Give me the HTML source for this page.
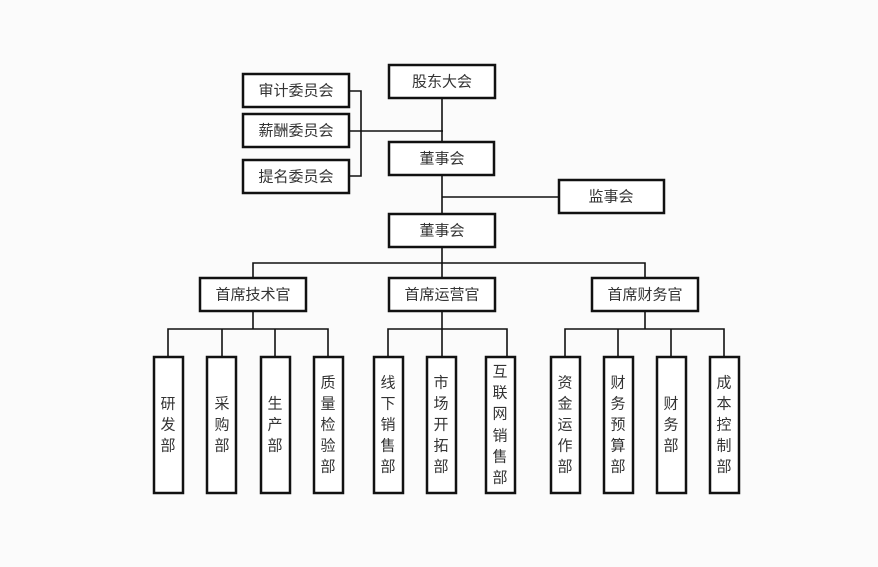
<!DOCTYPE html>
<html><head><meta charset="utf-8"><style>
html,body{margin:0;padding:0;background:#fbfbfb;}
svg{display:block;}
text{font-family:"Liberation Sans","Noto Sans CJK SC",sans-serif;font-size:15px;fill:#333;text-anchor:middle;dominant-baseline:central;}
rect{fill:#fff;stroke:#111;stroke-width:2.5;}
line,polyline{stroke:#111;stroke-width:1.6;fill:none;}
</style></head><body>
<svg width="878" height="567" viewBox="0 0 878 567">
<!-- connectors -->
<line x1="442" y1="98" x2="442" y2="142"/>
<polyline points="349,91 361,91 361,176 349,176"/>
<line x1="349" y1="131" x2="443" y2="131"/>
<line x1="442" y1="175" x2="442" y2="214"/>
<line x1="442" y1="197" x2="559" y2="197"/>
<line x1="442" y1="247" x2="442" y2="278"/>
<polyline points="253,278 253,263 645,263 645,278"/>
<line x1="253" y1="311" x2="253" y2="329"/>
<line x1="442" y1="311" x2="442" y2="357"/>
<line x1="645" y1="311" x2="645" y2="329"/>
<polyline points="168,357 168,329 328,329 328,357"/>
<line x1="222" y1="329" x2="222" y2="357"/>
<line x1="275" y1="329" x2="275" y2="357"/>
<polyline points="388,357 388,329 507,329 507,357"/>
<polyline points="565,357 565,329 724,329 724,357"/>
<line x1="618" y1="329" x2="618" y2="357"/>
<line x1="671" y1="329" x2="671" y2="357"/>
<!-- top boxes -->
<rect x="389" y="65" width="106" height="33"/><text x="442" y="82">股东大会</text>
<rect x="243" y="74" width="106" height="33"/><text x="296" y="91">审计委员会</text>
<rect x="243" y="114" width="106" height="33"/><text x="296" y="131">薪酬委员会</text>
<rect x="243" y="160" width="106" height="33"/><text x="296" y="177">提名委员会</text>
<rect x="389" y="142" width="105" height="33"/><text x="442" y="159">董事会</text>
<rect x="559" y="180" width="105" height="33"/><text x="611" y="197">监事会</text>
<rect x="389" y="214" width="106" height="33"/><text x="442" y="231">董事会</text>
<rect x="200" y="278" width="106" height="33"/><text x="253" y="295">首席技术官</text>
<rect x="389" y="278" width="106" height="33"/><text x="442" y="295">首席运营官</text>
<rect x="592" y="278" width="106" height="33"/><text x="645" y="295">首席财务官</text>
<!-- departments -->
<g>
<rect x="154" y="357" width="29" height="136"/>
<rect x="207" y="357" width="29" height="136"/>
<rect x="261" y="357" width="29" height="136"/>
<rect x="314" y="357" width="29" height="136"/>
<rect x="374" y="357" width="29" height="136"/>
<rect x="427" y="357" width="29" height="136"/>
<rect x="486" y="357" width="29" height="136"/>
<rect x="551" y="357" width="29" height="136"/>
<rect x="604" y="357" width="29" height="136"/>
<rect x="657" y="357" width="29" height="136"/>
<rect x="710" y="357" width="29" height="136"/>
</g>
<text x="168" y="404">研</text><text x="168" y="425">发</text><text x="168" y="446">部</text>
<text x="222" y="404">采</text><text x="222" y="425">购</text><text x="222" y="446">部</text>
<text x="275" y="404">生</text><text x="275" y="425">产</text><text x="275" y="446">部</text>
<text x="328" y="383">质</text><text x="328" y="404">量</text><text x="328" y="425">检</text><text x="328" y="446">验</text><text x="328" y="467">部</text>
<text x="388" y="383">线</text><text x="388" y="404">下</text><text x="388" y="425">销</text><text x="388" y="446">售</text><text x="388" y="467">部</text>
<text x="441" y="383">市</text><text x="441" y="404">场</text><text x="441" y="425">开</text><text x="441" y="446">拓</text><text x="441" y="467">部</text>
<text x="500" y="372">互</text><text x="500" y="393">联</text><text x="500" y="414">网</text><text x="500" y="436">销</text><text x="500" y="457">售</text><text x="500" y="478">部</text>
<text x="565" y="383">资</text><text x="565" y="404">金</text><text x="565" y="425">运</text><text x="565" y="446">作</text><text x="565" y="467">部</text>
<text x="618" y="383">财</text><text x="618" y="404">务</text><text x="618" y="425">预</text><text x="618" y="446">算</text><text x="618" y="467">部</text>
<text x="671" y="404">财</text><text x="671" y="425">务</text><text x="671" y="446">部</text>
<text x="724" y="383">成</text><text x="724" y="404">本</text><text x="724" y="425">控</text><text x="724" y="446">制</text><text x="724" y="467">部</text>
</svg>
</body></html>
